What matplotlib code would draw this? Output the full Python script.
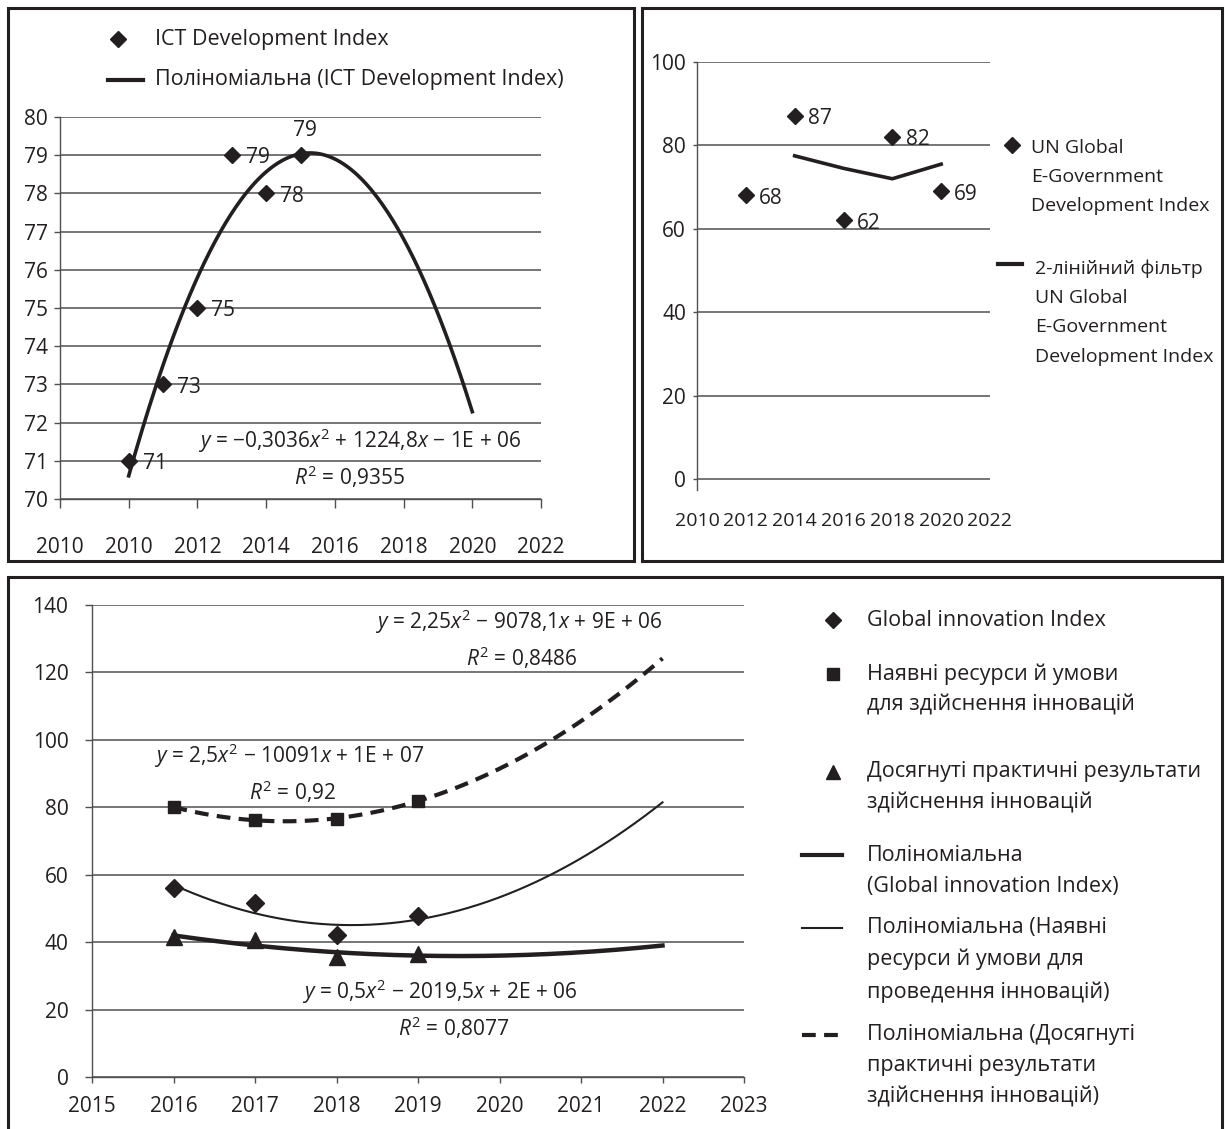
import numpy as np
import matplotlib.pyplot as plt
from matplotlib.lines import Line2D
from matplotlib.patches import Rectangle

plt.rcParams['font.family'] = ['Open Sans', 'DejaVu Sans']
plt.rcParams['mathtext.fontset'] = 'custom'
plt.rcParams['mathtext.rm'] = 'Open Sans'
plt.rcParams['mathtext.it'] = 'Open Sans:italic'

INK = '#231f20'
GRID = '#505050'
FS = 15
LFS = 15.5

# ICT Development Index
ict_years = [2010, 2011, 2012, 2013, 2014, 2015]
ict_values = [71, 73, 75, 79, 78, 79]
ict_xticks = [2008, 2010, 2012, 2014, 2016, 2018, 2020, 2022]
ict_xticklabels = ['2010', '2010', '2012', '2014', '2016', '2018', '2020', '2022']

# UN Global E-Government Development Index
egov_years = [2012, 2014, 2016, 2018, 2020]
egov_values = [68, 87, 62, 82, 69]

# Global innovation Index and its sub-indices
gii_years = [2016, 2017, 2018, 2019]
gii_total = [56, 51.5, 42.2, 47.7]
gii_inputs = [80, 76.3, 76.6, 81.9]
gii_outputs = [41.5, 40.5, 35.5, 36.5]

W, H = 1225, 1129


def box(l, t, r, b):
    return [l / W, 1 - b / H, (r - l) / W, (b - t) / H]


def fx(px):
    return px / W


def fy(py):
    return 1 - py / H


def trend(years, values, x_end, deg=2):
    x0 = years[0]
    coef = np.polyfit(np.array(years) - x0, values, deg)
    xs = np.linspace(years[0], x_end, 200)
    return xs, np.polyval(coef, xs - x0)


def style_axes(ax):
    for side in ['top', 'right']:
        ax.spines[side].set_visible(False)
    for side in ['left', 'bottom']:
        ax.spines[side].set_color(GRID)
        ax.spines[side].set_linewidth(1.0)
    ax.yaxis.grid(True, color=GRID, lw=1.1)
    ax.set_axisbelow(True)
    ax.tick_params(colors=GRID, labelcolor=INK, labelsize=FS, width=1.0)


def legend_entry(handle_kw, hx, hy, text, tx, ty, size=LFS):
    line = Line2D(hx, [fy(hy)] * len(hx), transform=fig.transFigure, color=INK, **handle_kw)
    fig.add_artist(line)
    fig.text(fx(tx), fy(ty), text, fontsize=size, color=INK, va='center', ha='left',
             linespacing=1.64 * LFS / size)


def equation(px, py, text):
    fig.text(fx(px), fy(py), text, ha='center', va='center', fontsize=FS, color=INK)


fig = plt.figure(figsize=(12.25, 11.29), dpi=100)

# ---------------- top left: ICT Development Index
ax1 = fig.add_axes(box(60, 117, 541, 499))
style_axes(ax1)
ax1.set_xlim(2008, 2022)
ax1.set_ylim(70, 80)
ax1.set_yticks(range(70, 81))
ax1.set_xticks(ict_xticks)
ax1.set_xticklabels(ict_xticklabels)
ax1.tick_params(axis='y', length=4.5, pad=4)
ax1.tick_params(axis='x', length=6.5, pad=21)

xs, ys = trend(ict_years, ict_values, 2020)
ax1.plot(xs, ys, color=INK, lw=2.6, zorder=2)
ax1.plot(ict_years, ict_values, 'D', ms=8, color=INK, zorder=3)
for i, (x, v) in enumerate(zip(ict_years, ict_values)):
    if i == len(ict_years) - 1:
        ax1.annotate(str(v), (x, v), xytext=(3, 18), textcoords='offset points',
                     ha='center', va='center', fontsize=FS, color=INK)
    else:
        ax1.annotate(str(v), (x, v), xytext=(10, -2), textcoords='offset points',
                     ha='left', va='center', fontsize=FS, color=INK)

equation(360, 441, r'$y$ = −0,3036$x^\mathrm{2}$ + 1224,8$x$ − 1E + 06')
equation(350, 477, r'$R^\mathrm{2}$ = 0,9355')

legend_entry(dict(marker='D', ms=8, ls='none'), [fx(118)], 39, 'ICT Development Index', 155, 39)
legend_entry(dict(lw=3), [fx(108), fx(143)], 80, 'Поліноміальна (ICT Development Index)', 155, 80)

# ---------------- top right: UN E-Government Development Index
ax2 = fig.add_axes(box(697, 62, 990, 490))
style_axes(ax2)
ax2.spines['bottom'].set_visible(False)
ax2.set_xlim(2010, 2022)
ax2.set_ylim(-2.64, 100)
ax2.set_yticks(range(0, 101, 20))
ax2.set_xticks(range(2010, 2023, 2))
ax2.tick_params(axis='y', length=3, pad=5)
ax2.tick_params(axis='x', length=0, pad=16, labelsize=14)

ax2.plot(egov_years, egov_values, 'D', ms=8, color=INK, zorder=3)
moving_avg = [(a + b) / 2 for a, b in zip(egov_values[:-1], egov_values[1:])]
ax2.plot(egov_years[1:], moving_avg, color=INK, lw=2.6, zorder=2)
for x, v in zip(egov_years, egov_values):
    ax2.annotate(str(v), (x, v), xytext=(9.5, -2), textcoords='offset points',
                 ha='left', va='center', fontsize=FS, color=INK)

legend_entry(dict(marker='D', ms=8, ls='none'), [fx(1012)], 145,
             'UN Global\nE-Government\nDevelopment Index', 1031, 177, size=14)
legend_entry(dict(lw=3), [fx(998), fx(1022)], 264,
             '2-лінійний фільтр\nUN Global\nE-Government\nDevelopment Index', 1035, 312.5, size=14)

# ---------------- bottom: Global innovation Index
ax3 = fig.add_axes(box(92, 605, 744, 1077))
style_axes(ax3)
ax3.set_xlim(2015, 2023)
ax3.set_ylim(0, 140)
ax3.set_yticks(range(0, 141, 20))
ax3.set_xticks(range(2015, 2024))
ax3.tick_params(axis='y', length=5, pad=12)
ax3.tick_params(axis='x', length=4.5, pad=9)

xs, ys = trend(gii_years, gii_total, 2022)
ax3.plot(xs, ys, color=INK, lw=1.5, zorder=2)
xs, ys = trend(gii_years, gii_inputs, 2022)
ax3.plot(xs, ys, color=INK, lw=3, dashes=(3.3, 2), zorder=2)
xs, ys = trend(gii_years, gii_outputs, 2022)
ax3.plot(xs, ys, color=INK, lw=3.2, zorder=2)

ax3.plot(gii_years, gii_total, 'D', ms=9.5, color=INK, zorder=3)
ax3.plot(gii_years, gii_inputs, 's', ms=9, color=INK, zorder=3)
ax3.plot(gii_years, gii_outputs, '^', ms=11, color=INK, zorder=3)

equation(519, 622, r'$y$ = 2,25$x^\mathrm{2}$ − 9078,1$x$ + 9E + 06')
equation(522, 658, r'$R^\mathrm{2}$ = 0,8486')
equation(289, 756, r'$y$ = 2,5$x^\mathrm{2}$ − 10091$x$ + 1E + 07')
equation(293, 792, r'$R^\mathrm{2}$ = 0,92')
equation(440, 992, r'$y$ = 0,5$x^\mathrm{2}$ − 2019,5$x$ + 2E + 06')
equation(454, 1028, r'$R^\mathrm{2}$ = 0,8077')

legend_entry(dict(marker='D', ms=8, ls='none'), [fx(833)], 620,
             'Global innovation Index', 867, 620)
legend_entry(dict(marker='s', ms=8.5, ls='none'), [fx(833)], 674,
             'Наявні ресурси й умови\nдля здійснення інновацій', 867, 689.5)
legend_entry(dict(marker='^', ms=10.5, ls='none'), [fx(833)], 772,
             'Досягнуті практичні результати\nздійснення інновацій', 867, 787.5)
legend_entry(dict(lw=3), [fx(802), fx(842)], 855,
             'Поліноміальна\n(Global innovation Index)', 867, 871)
legend_entry(dict(lw=1.5), [fx(802), fx(842)], 928,
             'Поліноміальна (Наявні\nресурси й умови для\nпроведення інновацій)', 867, 960)
legend_entry(dict(lw=3, dashes=(3.3, 2)), [fx(802), fx(842)], 1035,
             'Поліноміальна (Досягнуті\nпрактичні результати\nздійснення інновацій)', 867, 1066)

# panel frames
for l, t, r, b in [(8, 8, 634, 561), (642, 8, 1222, 561), (8, 577, 1222, 1140)]:
    fig.add_artist(Rectangle((fx(l), fy(b)), (r - l) / W, (b - t) / H, transform=fig.transFigure,
                             fill=False, lw=2.2, ec=INK))

fig.savefig('out.png', dpi=100, facecolor='white')
